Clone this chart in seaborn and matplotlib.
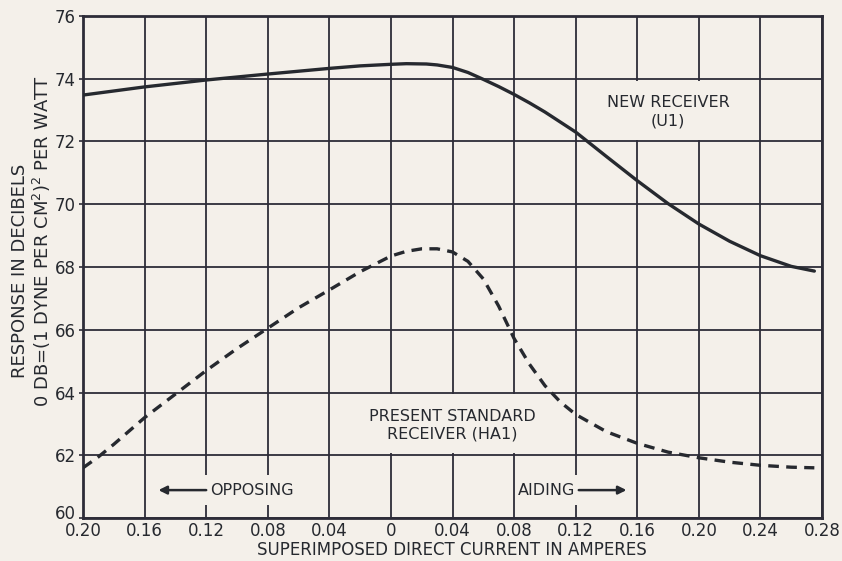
import numpy as np
import pandas as pd
import matplotlib
matplotlib.use("Agg")
import matplotlib.pyplot as plt
import matplotlib.transforms as mtransforms
from matplotlib.patches import Rectangle
import seaborn as sns

# Response of the new receiver (U1), solid curve
u1_current = [-0.200, -0.160, -0.120, -0.080, -0.040, -0.020, 0.000, 0.010, 0.023,
              0.030, 0.040, 0.050, 0.060, 0.070, 0.080, 0.090, 0.100, 0.120,
              0.140, 0.160, 0.180, 0.200, 0.220, 0.240, 0.260, 0.275]
u1_response = [73.48, 73.74, 73.96, 74.15, 74.33, 74.41, 74.46, 74.48, 74.47,
               74.44, 74.36, 74.20, 73.98, 73.75, 73.50, 73.23, 72.94, 72.30,
               71.52, 70.75, 70.02, 69.37, 68.82, 68.36, 68.02, 67.87]

# Response of the present standard receiver (HA1), dashed curve
ha1_current = [-0.200, -0.190, -0.180, -0.160, -0.140, -0.120, -0.100, -0.080,
               -0.060, -0.040, -0.020, 0.000, 0.010, 0.020, 0.030, 0.040, 0.050,
               0.060, 0.070, 0.080, 0.090, 0.100, 0.110, 0.120, 0.140, 0.160,
               0.180, 0.200, 0.220, 0.240, 0.260, 0.275]
ha1_response = [61.60, 61.95, 62.35, 63.20, 63.95, 64.70, 65.40, 66.05,
                66.70, 67.27, 67.85, 68.35, 68.50, 68.58, 68.58, 68.48, 68.18,
                67.62, 66.75, 65.72, 64.90, 64.22, 63.70, 63.30, 62.75, 62.38,
                62.10, 61.92, 61.78, 61.68, 61.62, 61.60]

x_ticks = [-0.20, -0.16, -0.12, -0.08, -0.04, 0.0, 0.04, 0.08, 0.12, 0.16, 0.20, 0.24, 0.28]
x_tick_labels = ["0.20", "0.16", "0.12", "0.08", "0.04", "0", "0.04", "0.08",
                 "0.12", "0.16", "0.20", "0.24", "0.28"]
y_ticks = [60, 62, 64, 66, 68, 70, 72, 74, 76]

PAPER = "#f4f0ea"
INK = "#26292f"
GRID = "#2d2c38"

sns.set_theme(style="white")
plt.rcParams["font.family"] = ["DejaVu Sans"]

fig = plt.figure(figsize=(8.42, 5.61), dpi=100, facecolor=PAPER)
ax = fig.add_axes([0.0986, 0.0766, 0.8777, 0.8949])
ax.set_facecolor(PAPER)

u1 = pd.DataFrame({"current": u1_current, "response": u1_response})
ha1 = pd.DataFrame({"current": ha1_current, "response": ha1_response})

sns.lineplot(data=u1, x="current", y="response", ax=ax, color=INK,
             linewidth=2.4, sort=False, zorder=3)
sns.lineplot(data=ha1, x="current", y="response", ax=ax, color=INK,
             linewidth=2.4, sort=False, zorder=3)
ax.lines[-1].set_dashes((3.2, 2.2))
for ln in ax.lines:
    ln.set_solid_joinstyle("round")
    ln.set_dash_joinstyle("round")

ax.set_xlim(-0.20, 0.28)
ax.set_ylim(60, 76)
ax.set_xticks(x_ticks)
ax.set_xticklabels(x_tick_labels)
ax.set_yticks(y_ticks)
ax.set_axisbelow(True)
ax.grid(True, color=GRID, linewidth=1.3)
ax.tick_params(axis="y", length=3, width=1.2, color=GRID, pad=2, labelsize=12,
               labelcolor=INK, left=True)
ax.tick_params(axis="x", length=0, pad=3, labelsize=12, labelcolor=INK)
for s in ax.spines.values():
    s.set_color(GRID)
    s.set_linewidth(2.0)
ax.set_xlabel("")
ax.set_ylabel("")

# lift the bottom y label clear of the first x label
lowest = ax.get_yticklabels()[0]
lowest.set_transform(lowest.get_transform() +
                     mtransforms.ScaledTranslation(0, 6 / 100, fig.dpi_scale_trans))

# paper-coloured panels that break the grid behind the captions
panel_kw = dict(facecolor=PAPER, edgecolor="none", zorder=1)
ax.add_patch(Rectangle((0.1215, 72.06), 0.117, 1.88, **panel_kw))
ax.add_patch(Rectangle((-0.0385, 62.06), 0.157, 1.88, **panel_kw))
ax.add_patch(Rectangle((-0.152, 60.40), 0.094, 0.98, **panel_kw))
ax.add_patch(Rectangle((0.081, 60.40), 0.074, 0.98, **panel_kw))

ax.text(0.180, 72.95, "NEW RECEIVER\n(U1)", ha="center", va="center",
        fontsize=11.5, color=INK, linespacing=1.25, zorder=4)
ax.text(0.040, 62.95, "PRESENT STANDARD\nRECEIVER (HA1)", ha="center", va="center",
        fontsize=11.5, color=INK, linespacing=1.2, zorder=4)

ax.text(-0.1175, 60.89, "OPPOSING", ha="left", va="center", fontsize=11.5,
        color=INK, zorder=4)
ax.annotate("", xy=(-0.151, 60.89), xytext=(-0.120, 60.89),
            arrowprops=dict(arrowstyle="-|>", lw=1.8, color=INK, mutation_scale=12,
                            shrinkA=0, shrinkB=0), zorder=4)
ax.text(0.1195, 60.89, "AIDING", ha="right", va="center", fontsize=11.5,
        color=INK, zorder=4)
ax.annotate("", xy=(0.153, 60.89), xytext=(0.122, 60.89),
            arrowprops=dict(arrowstyle="-|>", lw=1.8, color=INK, mutation_scale=12,
                            shrinkA=0, shrinkB=0), zorder=4)

fig.text(0.537, 0.004, "SUPERIMPOSED DIRECT CURRENT IN AMPERES", ha="center",
         va="bottom", fontsize=12, color=INK)
fig.text(0.024, 0.517, "RESPONSE IN DECIBELS", rotation=90, ha="center",
         va="center", fontsize=13, color=INK)
fig.text(0.050, 0.57, "0 DB=(1 DYNE PER CM$^2$)$^2$ PER WATT", rotation=90,
         ha="center", va="center", fontsize=13, color=INK)

fig.savefig("out.png", dpi=100, facecolor=PAPER)
